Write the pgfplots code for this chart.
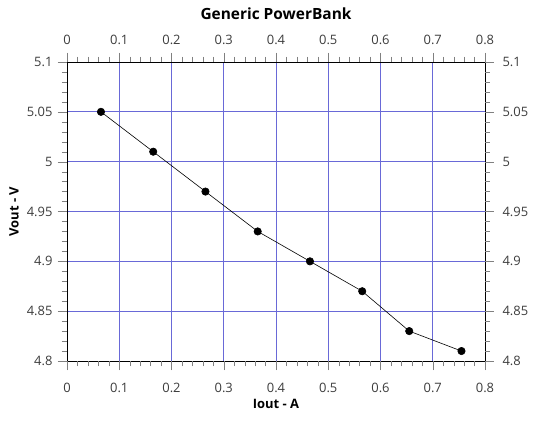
\documentclass[border=0pt]{standalone}
\usepackage{pgfplots}
\pgfplotsset{compat=1.18}
\usepackage{fontspec}
\setmainfont{Open Sans}
\definecolor{gridblue}{RGB}{105,105,215}
\definecolor{ticktext}{RGB}{60,60,60}
\pgfplotsset{
  pbaxis/.style={
    scale only axis,
    width=418bp, height=299bp,
    at={(0,0)}, anchor=south west,
    xmin=0, xmax=0.8, ymin=4.8, ymax=5.1,
    xtick={0,0.1,0.2,0.3,0.4,0.5,0.6,0.7,0.8},
    ytick={4.8,4.85,4.9,4.95,5,5.05,5.1},
    minor x tick num=4, minor y tick num=4,
    tick align=outside,
    major tick length=9bp, minor tick length=5bp,
    axis line style={black, line width=0.8bp},
    ticklabel style={font=\fontsize{13}{15}\selectfont, text=ticktext},
    /pgf/number format/assume math mode=true,
    /pgf/number format/fixed,
    /pgf/number format/precision=2,
  }
}
\begin{document}
\begin{tikzpicture}
\path[use as bounding box] (-67bp,-61bp) rectangle (485bp,361bp);
\begin{axis}[
  pbaxis,
  xmajorgrids, ymajorgrids,
  major grid style={draw=gridblue, line width=0.9bp},
  xticklabel style={yshift=-10bp},
  yticklabel style={xshift=-2bp},
  title={Generic PowerBank},
  title style={at={([yshift=42bp]axis description cs:0.5,1)}, anchor=center,
    font=\fontsize{15.5}{17}\selectfont\bfseries},
  xlabel={Iout - A},
  ylabel={Vout - V},
  xlabel style={at={([yshift=-43bp]axis description cs:0.5,0)}, anchor=center,
    font=\fontsize{13}{15}\selectfont\bfseries},
  ylabel style={at={([xshift=-53bp]axis description cs:0,0.5)}, anchor=center,
    font=\fontsize{13}{15}\selectfont\bfseries},
]
\addplot[black, line width=0.6bp, mark=*, mark size=3.7bp,
  mark options={fill=black}] coordinates {
  (0.065,5.05)
  (0.165,5.01)
  (0.265,4.97)
  (0.365,4.93)
  (0.465,4.90)
  (0.565,4.87)
  (0.655,4.83)
  (0.755,4.81)
};
\end{axis}
% labels on the top and right side
\begin{axis}[
  pbaxis,
  xticklabel pos=upper,
  yticklabel pos=right,
  xticklabel style={yshift=5bp},
  yticklabel style={xshift=5bp},
  axis line style={draw=none},
]
\addplot[draw=none] coordinates {(0,4.8)};
\end{axis}
\end{tikzpicture}
\end{document}
